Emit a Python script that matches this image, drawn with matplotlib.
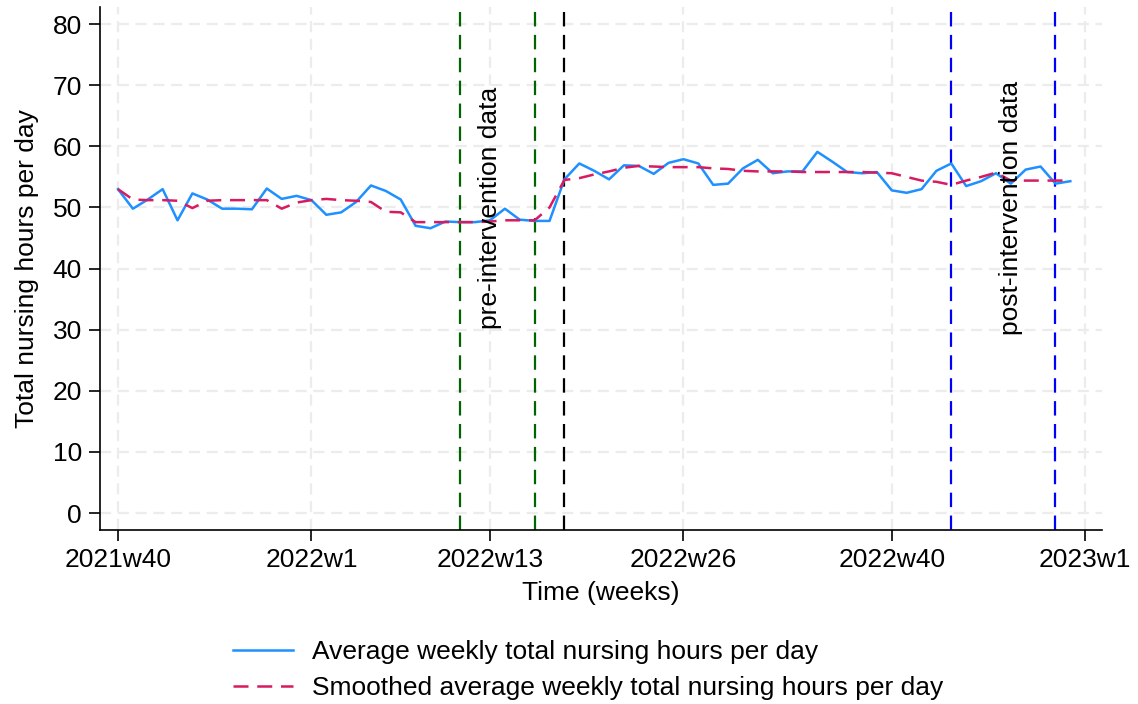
import numpy as np
import matplotlib
matplotlib.use("Agg")
import matplotlib.pyplot as plt

plt.rcParams['font.family'] = ['Liberation Sans', 'DejaVu Sans']

# weeks since 2021w40
weeks = np.arange(65)

avg_hours = [53.0, 49.8, 51.3, 53.0, 47.9, 52.3, 51.3, 49.8, 49.8, 49.7,
             53.1, 51.4, 51.9, 51.2, 48.8, 49.2, 50.9, 53.6, 52.7, 51.3,
             47.0, 46.6, 47.7, 47.6, 47.6, 47.9, 49.8, 48.0, 47.8, 47.8,
             54.6, 57.2, 56.0, 54.6, 56.9, 56.8, 55.5, 57.3, 57.9, 57.2,
             53.7, 53.9, 56.4, 57.8, 55.6, 55.9, 55.9, 59.1, 57.5, 55.8,
             55.6, 55.8, 52.8, 52.4, 53.0, 56.0, 57.2, 53.5, 54.3, 55.6,
             53.9, 56.2, 56.7, 53.9, 54.3]

smoothed_hours = [53.0, 51.3, 51.2, 51.2, 51.1, 49.9, 51.1, 51.2, 51.2, 51.2,
                  51.2, 49.8, 50.8, 51.2, 51.4, 51.2, 51.1, 50.9, 49.3, 49.2,
                  47.6, 47.6, 47.6, 47.6, 47.6, 47.7, 47.9, 47.9, 47.9, 50.0,
                  54.5, 54.8, 55.4, 55.9, 56.5, 56.8, 56.7, 56.6, 56.6, 56.6,
                  56.4, 56.3, 56.0, 55.9, 55.9, 55.9, 55.8, 55.8, 55.8, 55.8,
                  55.8, 55.7, 55.6, 55.0, 54.4, 54.2, 53.7, 54.4, 55.0, 55.7,
                  54.4, 54.4, 54.4, 54.4, 54.4]

tick_pos = [0, 13, 25, 38, 52, 65]
tick_labels = ['2021w40', '2022w1', '2022w13', '2022w26', '2022w40', '2023w1']

pre_period = [23, 28]
intervention = 30
post_period = [56, 63]

FS = 19

fig = plt.figure(figsize=(11.38, 7.04), dpi=100)
ax = fig.add_axes([0.088, 0.247, 0.880, 0.743])

ax.plot(weeks, avg_hours, color='#1E90FF', lw=1.8,
        label='Average weekly total nursing hours per day', zorder=3)
ax.plot(weeks, smoothed_hours, color='#D81B60', lw=1.8, dashes=(6, 3.5),
        label='Smoothed average weekly total nursing hours per day', zorder=3)

vdash = (6.5, 3.8)
for w in pre_period:
    ax.axvline(w, color='#006400', lw=1.6, dashes=vdash, zorder=2)
ax.axvline(intervention, color='black', lw=1.6, dashes=vdash, zorder=2)
for w in post_period:
    ax.axvline(w, color='#0000FF', lw=1.6, dashes=vdash, zorder=2)

ax.text(25, 50, 'pre-intervention data', rotation=90, ha='center', va='center',
        fontsize=FS)
ax.text(60, 50, 'post-intervention data', rotation=90, ha='center', va='center',
        fontsize=FS)

ax.set_xlim(-1.2, 66.1)
ax.set_ylim(-2.8, 82.8)
ax.set_xticks(tick_pos)
ax.set_xticklabels(tick_labels)
ax.set_yticks(np.arange(0, 81, 10))
ax.tick_params(labelsize=FS, length=8, width=1.2, pad=5)

ax.grid(True, color='#ececec', lw=1.6, dashes=(5, 3), zorder=0)
for side in ['top', 'right']:
    ax.spines[side].set_visible(False)
for side in ['left', 'bottom']:
    ax.spines[side].set_linewidth(1.2)

ax.set_xlabel('Time (weeks)', fontsize=FS, labelpad=6)
ax.set_ylabel('Total nursing hours per day', fontsize=FS, labelpad=10)

ax.legend(loc='center', bbox_to_anchor=(0.487, -0.268), frameon=False,
          fontsize=FS, handlelength=2.3, handletextpad=0.7, labelspacing=0.44)

fig.savefig('out.png', dpi=100)
